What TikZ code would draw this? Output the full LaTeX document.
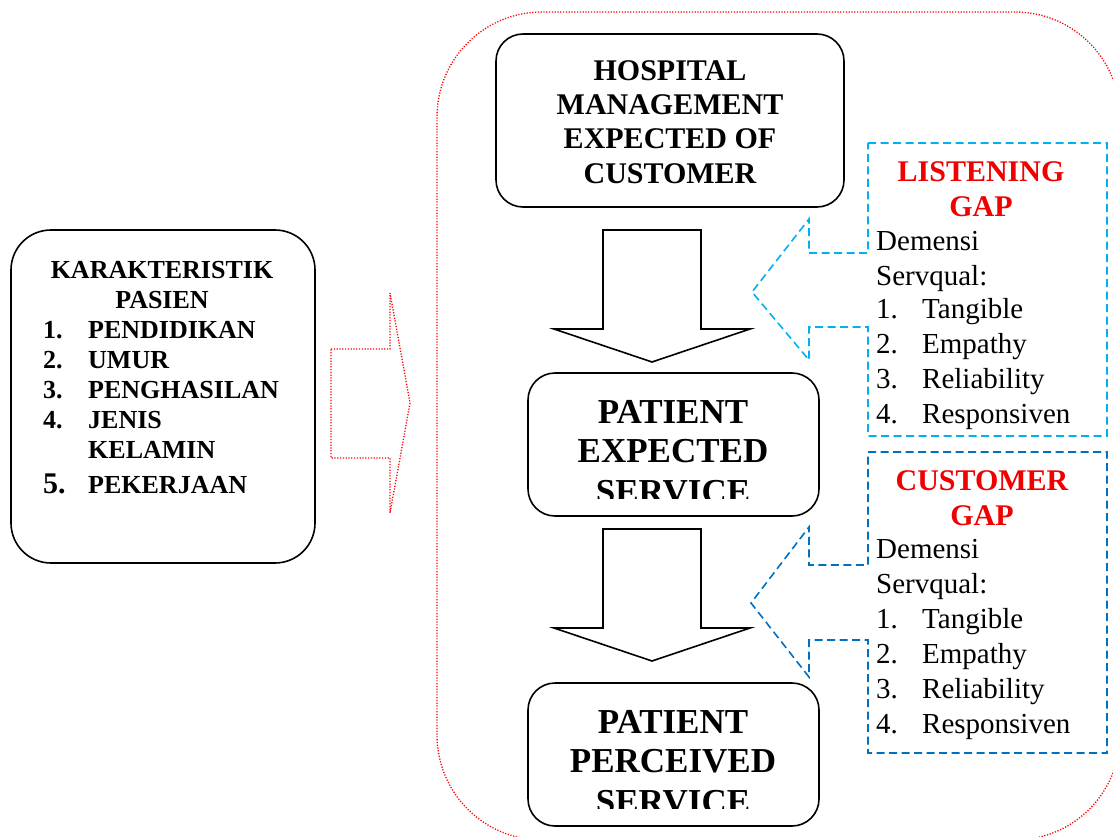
\documentclass[tikz,border=0pt]{standalone}
\usepackage{fontspec}
\setmainfont{Liberation Serif}
\definecolor{lblue}{RGB}{0,176,240}
\definecolor{dblue}{RGB}{0,112,192}
\definecolor{gapred}{RGB}{240,0,0}
\begin{document}
\begin{tikzpicture}[x=1pt,y=-1pt,
  boxA/.style={draw=black,line width=1.6pt,rounded corners=40pt,inner sep=0pt},
  boxB/.style={draw=black,line width=1.6pt,rounded corners=27pt,inner sep=0pt},
  reddot/.style={draw=red,line width=1.3pt,dash pattern=on 1.2pt off 1.6pt},
  blockarrow/.style={draw=black,line width=1.6pt,fill=white,line join=miter},
  callL/.style={draw=lblue,line width=1.6pt,dash pattern=on 8pt off 4.5pt},
  callC/.style={draw=dblue,line width=1.6pt,dash pattern=on 8pt off 4.5pt},
  ktxt/.style={font=\fontsize{26}{30}\selectfont\bfseries,inner sep=0pt},
  htxt/.style={font=\fontsize{30}{34}\selectfont\bfseries,inner sep=0pt,anchor=base},
  ptxt/.style={font=\fontsize{35}{40}\selectfont\bfseries,inner sep=0pt,anchor=base},
  gtxt/.style={font=\fontsize{30}{34}\selectfont\bfseries,text=gapred,inner sep=0pt,anchor=base},
  rtxt/.style={font=\fontsize{29}{34}\selectfont,inner sep=0pt,anchor=base west}
]
\useasboundingbox (0,0) rectangle (1113,837);
\fill[white] (0,0) rectangle (1113,837);

% outer red dotted rounded frame
\node[reddot,rounded corners=105pt,minimum width=683pt,minimum height=828pt,inner sep=0pt] (outer) at (778.5,426) {};

% main boxes
\node[boxA,minimum width=304pt,minimum height=333pt] (kar) at (163,396.5) {};
\node[boxB,minimum width=348pt,minimum height=173pt] (hosp) at (670,120.5) {};
\node[boxB,minimum width=291pt,minimum height=143pt] (pes) at (673.5,444.5) {};
\node[boxB,minimum width=291pt,minimum height=143pt] (pps) at (673.5,754.5) {};

% block arrows
\draw[blockarrow] (603,230) -- (701,230) -- (701,329) -- (750,329) -- (652,362) -- (554,329) -- (603,329) -- cycle;
\draw[blockarrow] (603,529) -- (701,529) -- (701,628) -- (750,628) -- (652,661) -- (554,628) -- (603,628) -- cycle;

% red dotted arrow from left box
\draw[reddot] (331,349) -- (390,349) -- (390,293) -- (410,403) -- (390,513) -- (390,458) -- (331,458) -- cycle;

% callouts
\draw[callL] (868,143) -- (1107,143) -- (1107,436) -- (868,436) -- (868,327) -- (809,327) -- (809,360) -- (752,292) -- (809,219) -- (809,253) -- (868,253) -- cycle;
\draw[callC] (868,452) -- (1107,452) -- (1107,753) -- (868,753) -- (868,640) -- (809,640) -- (809,677) -- (751,603) -- (809,527) -- (809,565) -- (868,565) -- cycle;

% left box text
\node[ktxt,anchor=base] (k1) at (162,278) {KARAKTERISTIK};
\node[ktxt,anchor=base] (k2) at (162,308) {PASIEN};
\node[ktxt,anchor=base west] (kn1) at (43,338) {1.};
\node[ktxt,anchor=base west] (kt1) at (88,338) {PENDIDIKAN};
\node[ktxt,anchor=base west] (kn2) at (43,368) {2.};
\node[ktxt,anchor=base west] (kt2) at (88,368) {UMUR};
\node[ktxt,anchor=base west] (kn3) at (43,398) {3.};
\node[ktxt,anchor=base west] (kt3) at (88,398) {PENGHASILAN};
\node[ktxt,anchor=base west] (kn4) at (43,428) {4.};
\node[ktxt,anchor=base west] (kt4) at (88,428) {JENIS};
\node[ktxt,anchor=base west] (kt4b) at (88,458) {KELAMIN};
\node[ktxt,font=\fontsize{30}{34}\selectfont\bfseries,anchor=base west] (kn5) at (43,493) {5.};
\node[ktxt,anchor=base west] (kt5) at (88,493) {PEKERJAAN};

% hospital text
\node[htxt] (h1) at (670,81) {HOSPITAL};
\node[htxt] (h2) at (670,115) {MANAGEMENT};
\node[htxt] (h3) at (670,149) {EXPECTED OF};
\node[htxt] (h4) at (670,184) {CUSTOMER};

% patient expected service
\begin{scope}
\clip (529,374) rectangle (818,498);
\node[ptxt] (e1) at (673,423) {PATIENT};
\node[ptxt] (e2) at (673,462) {EXPECTED};
\node[ptxt] (e3) at (673,503) {SERVICE};
\end{scope}

% patient perceived service
\begin{scope}
\clip (529,684) rectangle (818,808);
\node[ptxt] (p1) at (673,733) {PATIENT};
\node[ptxt] (p2) at (673,772) {PERCEIVED};
\node[ptxt] (p3) at (673,813) {SERVICE};
\end{scope}

% listening gap text
\node[gtxt] (l1) at (981,182) {LISTENING};
\node[gtxt] (l2) at (981,216) {GAP};
\node[rtxt] (l3) at (876,250) {Demensi};
\node[rtxt] (l4) at (876,285) {Servqual:};
\node[rtxt] (ln1) at (876,318) {1.};
\node[rtxt] (lt1) at (922,318) {Tangible};
\node[rtxt] (ln2) at (876,353) {2.};
\node[rtxt] (lt2) at (922,353) {Empathy};
\node[rtxt] (ln3) at (876,388) {3.};
\node[rtxt] (lt3) at (922,388) {Reliability};
\node[rtxt] (ln4) at (876,423) {4.};
\node[rtxt] (lt4) at (922,423) {Responsiven};

% customer gap text
\node[gtxt] (c1) at (982,490) {CUSTOMER};
\node[gtxt] (c2) at (982,525) {GAP};
\node[rtxt] (c3) at (876,558) {Demensi};
\node[rtxt] (c4) at (876,593) {Servqual:};
\node[rtxt] (cn1) at (876,628) {1.};
\node[rtxt] (ct1) at (922,628) {Tangible};
\node[rtxt] (cn2) at (876,663) {2.};
\node[rtxt] (ct2) at (922,663) {Empathy};
\node[rtxt] (cn3) at (876,698) {3.};
\node[rtxt] (ct3) at (922,698) {Reliability};
\node[rtxt] (cn4) at (876,733) {4.};
\node[rtxt] (ct4) at (922,733) {Responsiven};
\end{tikzpicture}
\end{document}
